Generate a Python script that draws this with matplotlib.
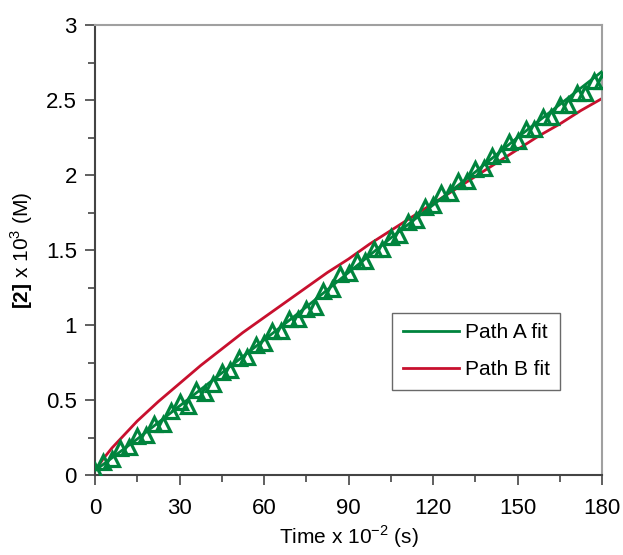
import matplotlib
matplotlib.use("Agg")
import matplotlib.pyplot as plt
from matplotlib.ticker import MultipleLocator

plt.rcParams['font.family'] = ['Liberation Sans', 'DejaVu Sans']
plt.rcParams['mathtext.fontset'] = 'custom'
plt.rcParams['mathtext.rm'] = 'Liberation Sans'
plt.rcParams['mathtext.bf'] = 'Liberation Sans:bold'

# measured data (triangles), one point every 3 units of time
data_time = list(range(0, 181, 3))
data_conc = [0.03, 0.09, 0.11, 0.18, 0.19, 0.26, 0.27, 0.34, 0.34, 0.43,
             0.49, 0.46, 0.57, 0.55, 0.61, 0.69, 0.70, 0.78, 0.79, 0.87,
             0.88, 0.96, 0.96, 1.04, 1.04, 1.11, 1.12, 1.23, 1.24, 1.34,
             1.35, 1.43, 1.43, 1.51, 1.51, 1.59, 1.60, 1.69, 1.70, 1.79,
             1.80, 1.88, 1.88, 1.96, 1.96, 2.04, 2.05, 2.13, 2.14, 2.22,
             2.23, 2.31, 2.31, 2.39, 2.39, 2.47, 2.47, 2.55, 2.55, 2.63,
             2.63]

# model fits
fit_a_time = [0, 15, 30, 45, 60, 75, 90, 105, 120, 135, 150, 165, 180]
path_a_fit = [0.03, 0.24, 0.46, 0.68, 0.90, 1.12, 1.35, 1.58, 1.80, 2.02, 2.25, 2.47, 2.69]

fit_b_time = [0, 3, 6, 10, 15, 22.5, 30, 37.5, 45, 52.5, 60, 67.5, 75, 82.5, 90,
              97.5, 105, 112.5, 120, 127.5, 135, 142.5, 150, 157.5, 165, 172.5, 180]
path_b_fit = [0.03, 0.11, 0.18, 0.26, 0.36, 0.49, 0.61, 0.73, 0.84, 0.95, 1.05,
              1.15, 1.25, 1.35, 1.44, 1.54, 1.63, 1.72, 1.81, 1.90, 1.99, 2.08,
              2.17, 2.26, 2.34, 2.43, 2.51]

green = '#00843D'
red = '#C8102E'

fig = plt.figure(figsize=(6.23, 5.55), dpi=100)
ax = fig.add_axes([0.1525, 0.1441, 0.8138, 0.8108])

ax.plot(fit_b_time, path_b_fit, color=red, lw=2, label='Path B fit', zorder=2)
ax.plot(fit_a_time, path_a_fit, color=green, lw=2, label='Path A fit', zorder=3)
ax.plot(data_time, data_conc, linestyle='none', marker='^', markersize=10,
        markerfacecolor='none', markeredgecolor=green, markeredgewidth=2.3, zorder=4)

ax.set_xlim(0, 180)
ax.set_ylim(0, 3)
ax.xaxis.set_major_locator(MultipleLocator(30))
ax.xaxis.set_minor_locator(MultipleLocator(15))
ax.yaxis.set_minor_locator(MultipleLocator(0.25))
ax.set_yticks([0, 0.5, 1, 1.5, 2, 2.5, 3])
ax.set_yticklabels(['0', '0.5', '1', '1.5', '2', '2.5', '3'])

ax.tick_params(which='major', direction='out', length=7, width=1.2, color='#444444', labelsize=16)
ax.tick_params(which='minor', direction='out', length=5, width=1.2, color='#444444')
ax.tick_params(axis='x', which='major', pad=9.5)
ax.tick_params(axis='y', which='major', pad=6)

for side in ['left', 'bottom']:
    ax.spines[side].set_color('#444444')
    ax.spines[side].set_linewidth(1.5)
for side in ['top', 'right']:
    ax.spines[side].set_color('#a0a0a0')
    ax.spines[side].set_linewidth(1.5)

ax.set_xlabel('Time x 10$^{-2}$ (s)', fontsize=15, labelpad=3)
ax.set_ylabel(r'$\mathbf{[2]}$ x 10$^{3}$ (M)', fontsize=15, labelpad=8)

handles, labels = ax.get_legend_handles_labels()
leg = ax.legend(handles[::-1], labels[::-1], loc='upper left',
                bbox_to_anchor=(0.586, 0.36), fontsize=15, frameon=True,
                fancybox=False, edgecolor='#444444', handlelength=2.7,
                handletextpad=0.3, labelspacing=0.85, borderpad=0.5,
                borderaxespad=0)
leg.get_frame().set_linewidth(1.0)

fig.savefig('out.png', dpi=100)
